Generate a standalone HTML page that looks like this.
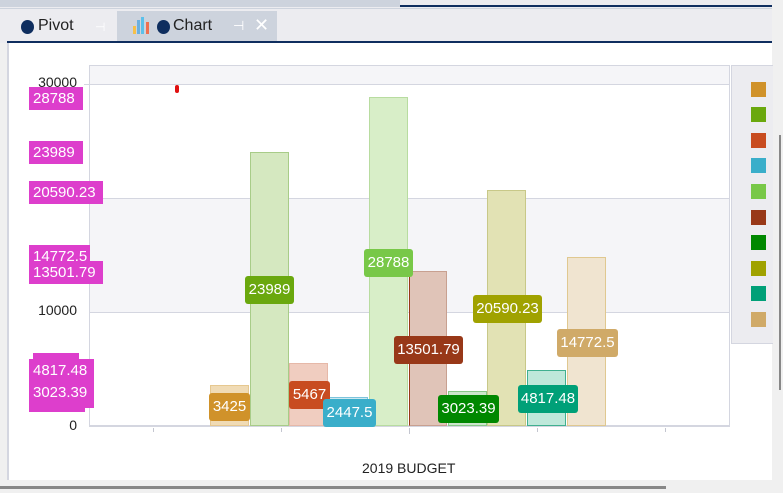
<!DOCTYPE html>
<html><head><style>
*{margin:0;padding:0;box-sizing:border-box}
body{width:783px;height:493px;overflow:hidden;background:#f0f0f0;font-family:"Liberation Sans",sans-serif;position:relative}
.a{position:absolute}
.lb{position:absolute;color:#fff;font-size:15px;line-height:28px;height:28px;text-align:center;border-radius:3px}
.ll{position:absolute;background:#dd3ecc;color:#fff;font-size:15px;line-height:23px;height:23px;padding:0 4px;left:29px}
.bar{position:absolute;bottom:67px;border:1px solid}
.sq{position:absolute;left:751px;width:15px;height:15px}
.yt{position:absolute;left:0;width:77px;text-align:right;font-size:14px;color:#222}
</style></head><body>
<div class="a" style="left:0;top:0;width:772px;height:43px;background:#ececf0"></div>
<div class="a" style="left:0;top:0;width:400px;height:7px;background:#cdd3dd"></div>
<div class="a" style="left:400px;top:5px;width:372px;height:2px;background:#0f2e5f"></div>
<div class="a" style="left:0;top:8px;width:772px;height:1px;background:#cdd3dd"></div>
<div class="a" style="left:117px;top:11px;width:160px;height:31px;background:#cdd3dd"></div>
<div class="a" style="left:21px;top:20px;width:13px;height:14px;border-radius:50%;background:#0f2e5f"></div>
<div class="a" style="left:38px;top:17px;font-size:16px;color:#222">Pivot</div>
<div class="a" style="left:95px;top:20px;font-size:12px;color:#fff">⊣</div>
<div class="a" style="left:133px;top:26px;width:3px;height:8px;background:#f5c04a"></div>
<div class="a" style="left:137px;top:20px;width:3px;height:14px;background:#6ab0e0"></div>
<div class="a" style="left:141px;top:17px;width:3px;height:17px;background:#5bc0ea"></div>
<div class="a" style="left:146px;top:22px;width:3px;height:12px;background:#f07050"></div>
<div class="a" style="left:157px;top:20px;width:13px;height:14px;border-radius:50%;background:#0f2e5f"></div>
<div class="a" style="left:173px;top:17px;font-size:16px;color:#222">Chart</div>
<div class="a" style="left:233px;top:18px;font-size:13px;color:#fff">⊣</div>
<div class="a" style="left:254px;top:15px;font-size:18px;color:#fff">✕</div>
<div class="a" style="left:7px;top:41px;width:765px;height:2px;background:#0f2e5f"></div>
<div class="a" style="left:7px;top:43px;width:765px;height:437px;background:#fff;border-left:2px solid #d4d6e0"></div>
<div class="a" style="left:772px;top:0;width:11px;height:493px;background:#f0f0f0"></div>
<div class="a" style="left:779px;top:135px;width:2px;height:255px;background:#888"></div>
<div class="a" style="left:0;top:486px;width:666px;height:3px;background:#888"></div>
<!-- plot -->
<div class="a" style="left:89px;top:65px;width:641px;height:362px;border:1px solid #d4d6e0;border-bottom:2px solid #d4d6e0;background:#fff"></div>
<div class="a" style="left:90px;top:66px;width:639px;height:18px;background:#f5f5f8"></div>
<div class="a" style="left:90px;top:198px;width:639px;height:114px;background:#f5f5f8"></div>
<div class="a" style="left:90px;top:84px;width:639px;height:1px;background:#d4d6e0"></div>
<div class="a" style="left:90px;top:198px;width:639px;height:1px;background:#d4d6e0"></div>
<div class="a" style="left:90px;top:312px;width:639px;height:1px;background:#d4d6e0"></div>
<div class="a" style="left:84px;top:84px;width:5px;height:1px;background:#d4d6e0"></div>
<div class="a" style="left:153px;top:428px;width:1px;height:4px;background:#c4c6d0"></div>
<div class="a" style="left:281px;top:428px;width:1px;height:4px;background:#c4c6d0"></div>
<div class="a" style="left:409px;top:428px;width:1px;height:6px;background:#c4c6d0"></div>
<div class="a" style="left:537px;top:428px;width:1px;height:4px;background:#c4c6d0"></div>
<div class="a" style="left:665px;top:428px;width:1px;height:4px;background:#c4c6d0"></div>
<div class="yt" style="top:74px">30000</div>
<div class="yt" style="top:188px">20000</div>
<div class="yt" style="top:302px">10000</div>
<div class="yt" style="top:417px">0</div>
<div class="a" style="left:175px;top:85px;width:4px;height:8px;border-radius:2px;background:#e01010"></div>
<!-- bars -->
<div class="bar" style="left:210px;width:39px;height:41px;background:#f0dbb5;border-color:#e6c890"></div>
<div class="bar" style="left:250px;width:39px;height:274px;background:#d5e8c0;border-color:#a8cc88"></div>
<div class="bar" style="left:289px;width:39px;height:63px;background:#f0cdc0;border-color:#e6b8a8"></div>
<div class="bar" style="left:328px;width:40px;height:29px;background:#cde8f0;border-color:#7cc4dc"></div>
<div class="bar" style="left:369px;width:39px;height:329px;background:#d8eec8;border-color:#b8dca0"></div>
<div class="bar" style="left:409px;width:38px;height:155px;background:#e0c4b8;border-color:#c8a090;border-left-color:#983818"></div>
<div class="bar" style="left:448px;width:39px;height:35px;background:#cce6cc;border-color:#88c888"></div>
<div class="bar" style="left:487px;width:39px;height:236px;background:#e2e2b4;border-color:#c8c888"></div>
<div class="bar" style="left:527px;width:39px;height:56px;background:#bee8da;border-color:#40b090"></div>
<div class="bar" style="left:567px;width:39px;height:169px;background:#f0e4d0;border-color:#e0c890"></div>
<!-- bar labels -->
<div class="lb" style="left:209px;top:393px;width:41px;background:#d0922a">3425</div>
<div class="lb" style="left:245px;top:276px;width:49px;background:#6aa80e">23989</div>
<div class="lb" style="left:289px;top:381px;width:41px;background:#c84c20">5467</div>
<div class="lb" style="left:323px;top:399px;width:53px;background:#3aaeca">2447.5</div>
<div class="lb" style="left:364px;top:249px;width:49px;background:#78c848">28788</div>
<div class="lb" style="left:394px;top:336px;width:69px;background:#983818">13501.79</div>
<div class="lb" style="left:438px;top:395px;width:61px;background:#008800">3023.39</div>
<div class="lb" style="left:473px;top:295px;width:69px;background:#a0a200">20590.23</div>
<div class="lb" style="left:518px;top:385px;width:60px;background:#00a078">4817.48</div>
<div class="lb" style="left:557px;top:329px;width:61px;background:#d0aa68">14772.5</div>
<!-- left labels -->
<div class="ll" style="top:353px;left:33px;width:46px;color:transparent">5467</div>
<div class="ll" style="top:389px;width:56px;color:transparent">2447.5</div>
<div class="ll" style="top:87px;width:54px">28788</div>
<div class="ll" style="top:141px;width:54px">23989</div>
<div class="ll" style="top:181px;width:74px">20590.23</div>
<div class="ll" style="top:245px;width:61px">14772.5</div>
<div class="ll" style="top:261px;width:74px">13501.79</div>
<div class="ll" style="top:359px;width:65px;height:25px">4817.48</div>
<div class="ll" style="top:382px;width:65px;height:26px;line-height:22px">3023.39</div>
<!-- legend -->
<div class="a" style="left:731px;top:65px;width:42px;height:279px;background:#ececf0;border:1px solid #d4d6e0;border-right:none"></div>
<div class="sq" style="top:82px;background:#d0922a"></div>
<div class="sq" style="top:107px;background:#6aa80e"></div>
<div class="sq" style="top:133px;background:#c84c20"></div>
<div class="sq" style="top:158px;background:#3aaeca"></div>
<div class="sq" style="top:184px;background:#78c848"></div>
<div class="sq" style="top:210px;background:#983818"></div>
<div class="sq" style="top:235px;background:#008800"></div>
<div class="sq" style="top:261px;background:#a0a200"></div>
<div class="sq" style="top:286px;background:#00a078"></div>
<div class="sq" style="top:312px;background:#d0aa68"></div>
<div class="a" style="left:362px;top:460px;font-size:14px;color:#222">2019 BUDGET</div>
</body></html>
